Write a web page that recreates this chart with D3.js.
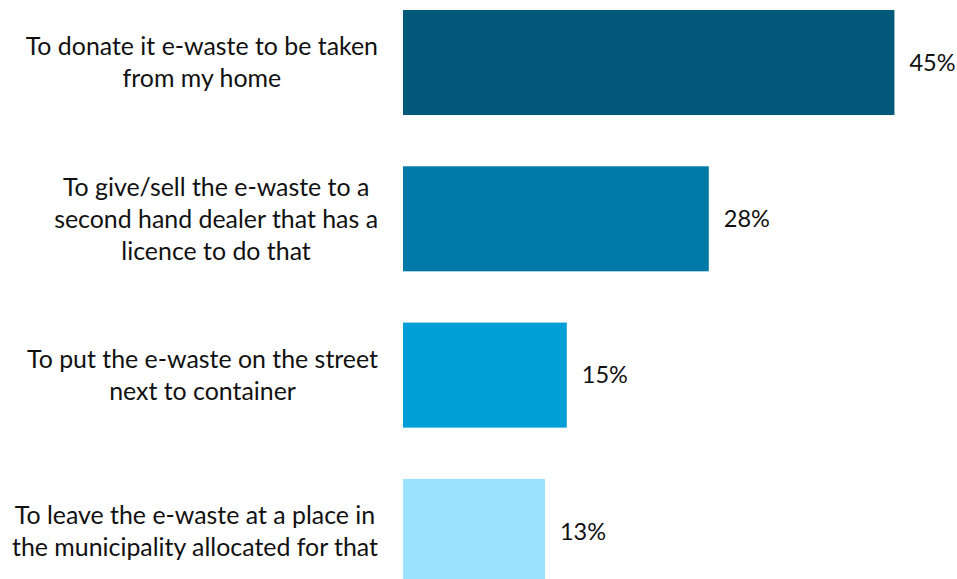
<!DOCTYPE html>
<html>
<head>
<meta charset="utf-8">
<script src="https://cdn.jsdelivr.net/npm/d3@7"></script>
<style>
  html, body { margin: 0; padding: 0; background: #fff; }
  svg { display: block; }
  text { font-family: "Lato", "Open Sans", sans-serif; fill: #111; }
</style>
</head>
<body>
<svg id="chart" width="957" height="579"></svg>
<script>
// Survey answers and shares (%)
const categories = [
  ["To donate it e-waste to be taken", "from my home"],
  ["To give/sell the e-waste to a", "second hand dealer that has a", "licence to do that"],
  ["To put the e-waste on the street", "next to container"],
  ["To leave the e-waste at a place in", "the municipality allocated for that"]
];
const values = [45, 28, 15, 13];
const valueLabels = ["45%", "28%", "15%", "13%"];
const colors = ["#02597a", "#0179a6", "#009fd7", "#9be2ff"];

const svg = d3.select("#chart");

const x = d3.scaleLinear().domain([0, 100]).range([403, 403 + 1092]);
const step = 156.3, pad = 0.328;
const y = d3.scaleBand()
  .domain(d3.range(values.length))
  .range([10 - step * pad / 2, 10 - step * pad / 2 + step * values.length])
  .paddingInner(pad)
  .paddingOuter(pad / 2);

// Bars
svg.selectAll("rect.bar")
  .data(values)
  .join("rect")
  .attr("class", "bar")
  .attr("x", x(0))
  .attr("y", (d, i) => y(i))
  .attr("width", d => x(d) - x(0))
  .attr("height", y.bandwidth())
  .attr("fill", (d, i) => colors[i]);

// Value labels
svg.selectAll("text.val")
  .data(values)
  .join("text")
  .attr("class", "val")
  .attr("x", d => x(d) + 15)
  .attr("y", (d, i) => y(i) + y.bandwidth() / 2)
  .attr("dy", "0.35em")
  .style("font-size", "23.5px")
  .text((d, i) => valueLabels[i]);

// Category labels: centred lines in a block right-aligned to the bars
const lineH = 32;
const labelRight = 378;
categories.forEach((lines, i) => {
  const cy = y(i) + y.bandwidth() / 2;
  const g = svg.append("g");
  const texts = g.selectAll("text")
    .data(lines)
    .join("text")
    .attr("text-anchor", "middle")
    .attr("y", (d, j) => cy + (j - (lines.length - 1) / 2) * lineH)
    .attr("dy", "0.35em")
    .style("font-size", "24.9px")
    .text(d => d);
  let maxW = 0;
  texts.each(function () { maxW = Math.max(maxW, this.getComputedTextLength()); });
  texts.attr("x", labelRight - maxW / 2);
});
</script>
</body>
</html>
